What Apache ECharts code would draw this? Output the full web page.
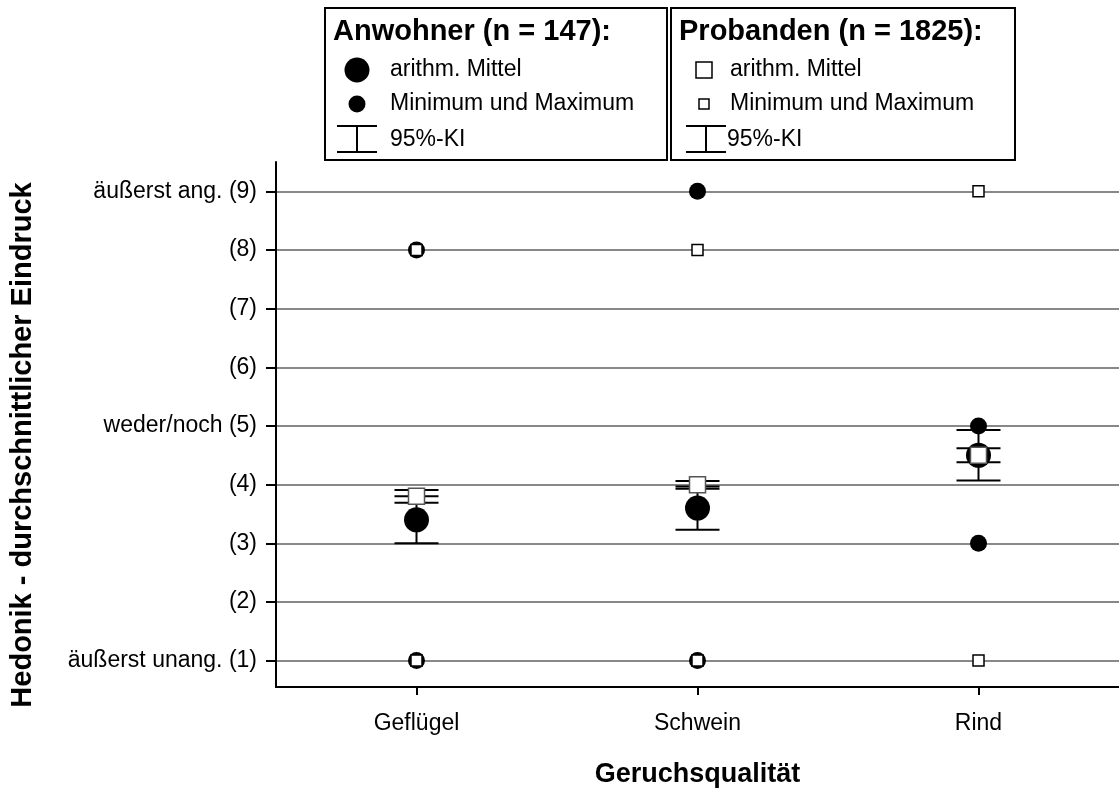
<!DOCTYPE html>
<html>
<head>
<meta charset="utf-8">
<script src="https://cdn.jsdelivr.net/npm/echarts@6/dist/echarts.min.js"></script>
<style>
  html, body { margin: 0; padding: 0; background: #fff; }
  #chart { width: 1119px; height: 793px; }
</style>
</head>
<body>
<div id="chart"></div>
<script>
// Odour categories on the x axis
const categories = ['Geflügel', 'Schwein', 'Rind'];

// Hedonic scale labels (1..9)
const scaleValues = [1, 2, 3, 4, 5, 6, 7, 8, 9];
const scaleLabels = {
  1: 'äußerst unang. (1)', 2: '(2)', 3: '(3)', 4: '(4)', 5: 'weder/noch (5)',
  6: '(6)', 7: '(7)', 8: '(8)', 9: 'äußerst ang. (9)'
};

// Residents (Anwohner, n = 147)
const anwohnerMean = [3.4, 3.6, 4.5];
const anwohnerCiLow = [3.0, 3.23, 4.07];
const anwohnerCiHigh = [3.8, 3.97, 4.93];
const anwohnerMin = [1, 1, 3];
const anwohnerMax = [8, 9, 5];

// Panel (Probanden, n = 1825)
const probandenMean = [3.8, 4.0, 4.5];
const probandenCiLow = [3.69, 3.93, 4.38];
const probandenCiHigh = [3.91, 4.06, 4.62];
const probandenMin = [1, 1, 1];
const probandenMax = [8, 8, 9];

const FONT = '"Liberation Sans", Arial, sans-serif';
const LABEL_SIZE = 23;
const TITLE_SIZE = 29;

function pts(values) { return values.map((v, i) => [i, v]); }
function minMaxPts(mins, maxs) {
  const out = [];
  mins.forEach((v, i) => out.push([i, v]));
  maxs.forEach((v, i) => out.push([i, v]));
  return out;
}
function ciData(lo, hi) { return lo.map((v, i) => [i, v, hi[i]]); }

function errorBarRender(params, api) {
  const lo = api.coord([api.value(0), api.value(1)]);
  const hi = api.coord([api.value(0), api.value(2)]);
  const half = 22;
  const style = { stroke: '#000', lineWidth: 2 };
  return {
    type: 'group',
    children: [
      { type: 'line', shape: { x1: lo[0], y1: lo[1], x2: hi[0], y2: hi[1] }, style },
      { type: 'line', shape: { x1: lo[0] - half, y1: lo[1], x2: lo[0] + half, y2: lo[1] }, style },
      { type: 'line', shape: { x1: hi[0] - half, y1: hi[1], x2: hi[0] + half, y2: hi[1] }, style }
    ]
  };
}

const chart = echarts.init(document.getElementById('chart'), null, { renderer: 'canvas' });

// Key elements are drawn flat, each with its own z above the frame
const KZ = 110;
const keyText = (x, y, text, bold, size) => ({
  type: 'text', x, y, z: KZ,
  style: {
    text, fill: '#000', font: (bold ? 'bold ' : '') + size + 'px ' + FONT,
    verticalAlign: 'middle', align: 'left'
  }
});
const keyLine = (x1, y1, x2, y2) => ({
  type: 'line', z: KZ, shape: { x1, y1, x2, y2 }, style: { stroke: '#000', lineWidth: 2 }
});

chart.setOption({
  backgroundColor: '#fff',
  animation: false,
  grid: { left: 276, right: -3, top: 162, bottom: 104, containLabel: false },
  xAxis: {
    type: 'category',
    data: categories,
    boundaryGap: true,
    name: 'Geruchsqualität',
    nameLocation: 'middle',
    nameGap: 74,
    nameTextStyle: { fontFamily: FONT, fontSize: 27, fontWeight: 'bold', color: '#000' },
    axisLine: { show: true, lineStyle: { color: '#000', width: 2 } },
    axisTick: { show: true, interval: 0, alignWithLabel: true, length: 8, lineStyle: { color: '#000', width: 2 } },
    axisLabel: { fontFamily: FONT, fontSize: LABEL_SIZE, color: '#000', margin: 25 },
    splitLine: { show: false }
  },
  yAxis: {
    type: 'value',
    min: 0.55,
    max: 9.5,
    axisLine: { show: true, lineStyle: { color: '#000', width: 2 } },
    axisTick: { show: true, length: 10, customValues: scaleValues, lineStyle: { color: '#000', width: 2 } },
    axisLabel: {
      customValues: scaleValues,
      fontFamily: FONT, fontSize: LABEL_SIZE, color: '#000', margin: 19,
      formatter: v => scaleLabels[Math.round(v)] || ''
    },
    splitLine: { show: true, lineStyle: { color: '#888', width: 2 } }
  },
  series: [
    {
      name: 'Anwohner 95%-KI', type: 'custom', z: 2,
      renderItem: errorBarRender, data: ciData(anwohnerCiLow, anwohnerCiHigh)
    },
    {
      name: 'Probanden 95%-KI', type: 'custom', z: 3,
      renderItem: errorBarRender, data: ciData(probandenCiLow, probandenCiHigh)
    },
    {
      name: 'Anwohner arithm. Mittel', type: 'scatter', z: 4,
      symbol: 'circle', symbolSize: 25,
      itemStyle: { color: '#000', opacity: 1 },
      data: pts(anwohnerMean)
    },
    {
      name: 'Anwohner Minimum und Maximum', type: 'scatter', z: 5,
      symbol: 'circle', symbolSize: 17,
      itemStyle: { color: '#000', opacity: 1 },
      data: minMaxPts(anwohnerMin, anwohnerMax)
    },
    {
      name: 'Probanden arithm. Mittel', type: 'scatter', z: 6,
      symbol: 'rect', symbolSize: 16,
      itemStyle: { color: '#fff', borderColor: '#555', borderWidth: 1.5, opacity: 1 },
      data: pts(probandenMean)
    },
    {
      name: 'Probanden Minimum und Maximum', type: 'scatter', z: 7,
      symbol: 'rect', symbolSize: 11,
      itemStyle: { color: '#fff', borderColor: '#000', borderWidth: 1.5, opacity: 1 },
      data: minMaxPts(probandenMin, probandenMax)
    }
  ],
  graphic: [
    // Vertical axis title
    { type: 'text', x: 23, y: 445, rotation: Math.PI / 2, z: KZ,
      style: { text: 'Hedonik - durchschnittlicher Eindruck', fill: '#000',
        font: 'bold ' + TITLE_SIZE + 'px ' + FONT, align: 'center', verticalAlign: 'middle' } },
    // Residents key
    { type: 'rect', z: 100, shape: { x: 325, y: 8, width: 342, height: 152 },
      style: { fill: '#fff', stroke: '#000', lineWidth: 2 } },
    keyText(333, 32, 'Anwohner (n = 147):', true, TITLE_SIZE),
    { type: 'circle', z: KZ, shape: { cx: 357, cy: 70, r: 12.5 }, style: { fill: '#000' } },
    keyText(390, 70, 'arithm. Mittel', false, LABEL_SIZE),
    { type: 'circle', z: KZ, shape: { cx: 357, cy: 104, r: 8.5 }, style: { fill: '#000' } },
    keyText(390, 104, 'Minimum und Maximum', false, LABEL_SIZE),
    keyLine(337, 126, 377, 126), keyLine(337, 152, 377, 152), keyLine(357, 126, 357, 152),
    keyText(390, 140, '95%-KI', false, LABEL_SIZE),
    // Panel key
    { type: 'rect', z: 100, shape: { x: 671, y: 8, width: 344, height: 152 },
      style: { fill: '#fff', stroke: '#000', lineWidth: 2 } },
    keyText(679, 32, 'Probanden (n = 1825):', true, TITLE_SIZE),
    { type: 'rect', z: KZ, shape: { x: 696, y: 62, width: 16, height: 16 },
      style: { fill: '#fff', stroke: '#000', lineWidth: 1.5 } },
    keyText(730, 70, 'arithm. Mittel', false, LABEL_SIZE),
    { type: 'rect', z: KZ, shape: { x: 699, y: 99, width: 10, height: 10 },
      style: { fill: '#fff', stroke: '#000', lineWidth: 1.5 } },
    keyText(730, 104, 'Minimum und Maximum', false, LABEL_SIZE),
    keyLine(686, 126, 726, 126), keyLine(686, 152, 726, 152), keyLine(706, 126, 706, 152),
    keyText(727, 140, '95%-KI', false, LABEL_SIZE)
  ]
});
</script>
</body>
</html>
